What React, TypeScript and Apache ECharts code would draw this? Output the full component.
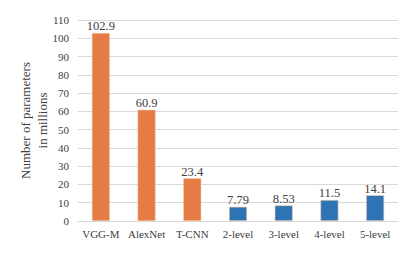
import React, { useEffect, useRef } from "react";
import * as echarts from "echarts";

const categories = ["VGG-M", "AlexNet", "T-CNN", "2-level", "3-level", "4-level", "5-level"];
const values = [102.9, 60.9, 23.4, 7.79, 8.53, 11.5, 14.1];
const labels = ["102.9", "60.9", "23.4", "7.79", "8.53", "11.5", "14.1"];
const groups = ["other", "other", "other", "ours", "ours", "ours", "ours"];
const groupColors: Record<string, string> = { other: "#E67C45", ours: "#2E74B5" };

export default function App() {
  const ref = useRef<HTMLDivElement>(null);
  useEffect(() => {
    if (!ref.current) return;
    const chart = echarts.init(ref.current, undefined, { renderer: "svg" });
    const font = "Times New Roman, Liberation Serif, serif";
    chart.setOption({
      animation: false,
      textStyle: { fontFamily: font },
      grid: { left: 78, right: 17, top: 20, bottom: 33 },
      xAxis: {
        type: "category",
        data: categories,
        axisLine: { lineStyle: { color: "#d9d9d9", width: 1 } },
        axisTick: { show: false },
        axisLabel: { color: "#404040", fontSize: 11, fontFamily: font, margin: 7, interval: 0 },
      },
      yAxis: {
        type: "value",
        min: 0,
        max: 110,
        interval: 10,
        name: "Number of parameters\nin millions",
        nameLocation: "middle",
        nameGap: 27,
        nameMoveOverlap: false,
        nameTextStyle: { color: "#404040", fontSize: 13, fontFamily: font, lineHeight: 17 },
        axisLine: { show: false },
        axisTick: { show: false },
        axisLabel: { color: "#404040", fontSize: 11, fontFamily: font, margin: 9 },
        splitLine: { lineStyle: { color: "#d9d9d9", width: 1 } },
      },
      series: [
        {
          type: "bar",
          barWidth: 18,
          data: values.map((v, i) => ({
            value: v,
            itemStyle: { color: groupColors[groups[i]], borderColor: "#f4c9ae", borderWidth: 0.6 },
            label: { formatter: labels[i] },
          })),
          label: {
            show: true,
            position: "top",
            distance: 0,
            color: "#404040",
            fontSize: 12.5,
            fontFamily: font,
          },
        },
      ],
    });
    return () => chart.dispose();
  }, []);
  return <div ref={ref} style={{ width: 415, height: 254, margin: -8, background: "#fff" }} />;
}
